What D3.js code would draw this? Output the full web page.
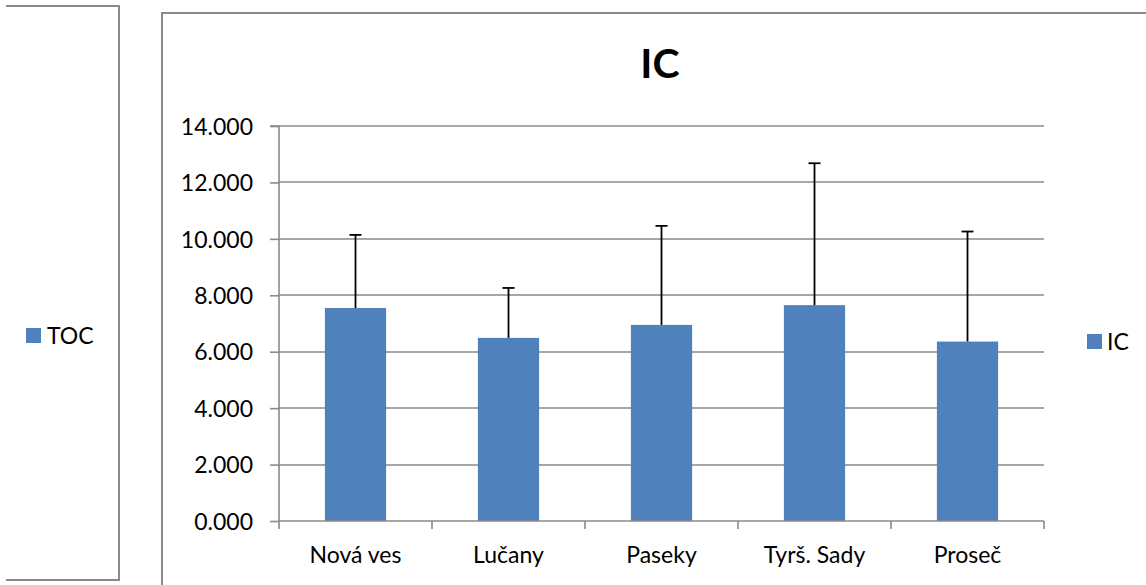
<!DOCTYPE html>
<html>
<head>
<meta charset="utf-8">
<script src="https://cdn.jsdelivr.net/npm/d3@7"></script>
<style>
  html, body { margin: 0; padding: 0; background: #fff; }
  svg { display: block; }
  text { font-family: Lato, "Open Sans", sans-serif; fill: #000; }
</style>
</head>
<body>
<svg id="chart" width="1146" height="585"></svg>
<script>
const categories = ["Nová ves", "Lučany", "Paseky", "Tyrš. Sady", "Proseč"];
const icValues = [7.55, 6.49, 6.95, 7.65, 6.36];
const icErrors = [2.59, 1.77, 3.51, 5.03, 3.90];
const yTicks = [0, 2, 4, 6, 8, 10, 12, 14];
const chartTitle = "IC";
const seriesName = "IC";
const otherSeriesName = "TOC";

const svg = d3.select("#chart");
const gridColor = "#8a8a8a";
const barColor = "#4F81BD";

// Left (TOC) panel border
svg.append("path")
  .attr("d", "M6,6 H119 V580 H6")
  .attr("fill", "none").attr("stroke", gridColor).attr("stroke-width", 2);

// Main chart border
svg.append("path")
  .attr("d", "M1146,13 H162 V585")
  .attr("fill", "none").attr("stroke", gridColor).attr("stroke-width", 2);

// TOC legend
svg.append("rect").attr("x", 26).attr("y", 328).attr("width", 15).attr("height", 15).attr("fill", barColor);
svg.append("text").attr("x", 47).attr("y", 343.5).attr("font-size", 23).text(otherSeriesName);

// Scales
const x = d3.scaleBand().domain(categories).range([279, 1044]).paddingInner(0.6).paddingOuter(0.3);
const xOuter = d3.scaleBand().domain(categories).range([279, 1044]).padding(0);
const y = d3.scaleLinear().domain([0, 14]).range([521, 126]);

// Title
svg.append("text").attr("x", 660).attr("y", 78).attr("text-anchor", "middle")
  .attr("font-size", 41).attr("font-weight", "bold").text(chartTitle);

// Gridlines
svg.append("g").selectAll("line").data(yTicks.filter(d => d > 0)).join("line")
  .attr("x1", 279).attr("x2", 1044)
  .attr("y1", d => Math.round(y(d))).attr("y2", d => Math.round(y(d)))
  .attr("stroke", gridColor).attr("stroke-width", 1.6);

// Y axis
const yAxis = d3.axisLeft(y).tickValues(yTicks).tickFormat(d3.format(".3f")).tickSize(9).tickPadding(17);
const gy = svg.append("g").attr("transform", "translate(279,0)").call(yAxis);
gy.select(".domain").attr("stroke", gridColor).attr("stroke-width", 1.6).attr("d", `M-9,${y(14)}H0V${y(0)}`);
gy.selectAll(".tick line").attr("stroke", gridColor).attr("stroke-width", 1.6);
gy.selectAll(".tick text").attr("font-size", 23).attr("font-family", "Lato").attr("fill", "#000").attr("dy", "0.36em");

// Bars
svg.append("g").selectAll("rect").data(categories).join("rect")
  .attr("x", d => x(d)).attr("width", x.bandwidth())
  .attr("y", (d, i) => y(icValues[i])).attr("height", (d, i) => y(0) - y(icValues[i]))
  .attr("fill", barColor);

// X axis
const gx = svg.append("g").attr("transform", `translate(0,${y(0)})`);
gx.append("line").attr("x1", 279).attr("x2", 1044).attr("y1", 0).attr("y2", 0)
  .attr("stroke", gridColor).attr("stroke-width", 1.6);
const boundaries = categories.map(c => xOuter(c)).concat([xOuter(categories[categories.length - 1]) + xOuter.bandwidth()]);
gx.selectAll("line.tk").data(boundaries).join("line").attr("class", "tk")
  .attr("x1", d => d).attr("x2", d => d).attr("y1", 0).attr("y2", 8)
  .attr("stroke", gridColor).attr("stroke-width", 1.6);
gx.selectAll("text").data(categories).join("text")
  .attr("x", d => xOuter(d) + xOuter.bandwidth() / 2).attr("y", 41.5)
  .attr("text-anchor", "middle").attr("font-size", 23).text(d => d);

// Error bars
const eb = svg.append("g").attr("stroke", "#000").attr("stroke-width", 1.8);
categories.forEach((c, i) => {
  const cx = x(c) + x.bandwidth() / 2;
  eb.append("line").attr("x1", cx).attr("x2", cx)
    .attr("y1", y(icValues[i])).attr("y2", y(icValues[i] + icErrors[i]));
  eb.append("line").attr("x1", cx - 6).attr("x2", cx + 6)
    .attr("y1", y(icValues[i] + icErrors[i])).attr("y2", y(icValues[i] + icErrors[i]));
});

// IC legend
svg.append("rect").attr("x", 1087).attr("y", 334).attr("width", 15).attr("height", 15).attr("fill", barColor);
svg.append("text").attr("x", 1107).attr("y", 350).attr("font-size", 23).text(seriesName);
</script>
</body>
</html>
